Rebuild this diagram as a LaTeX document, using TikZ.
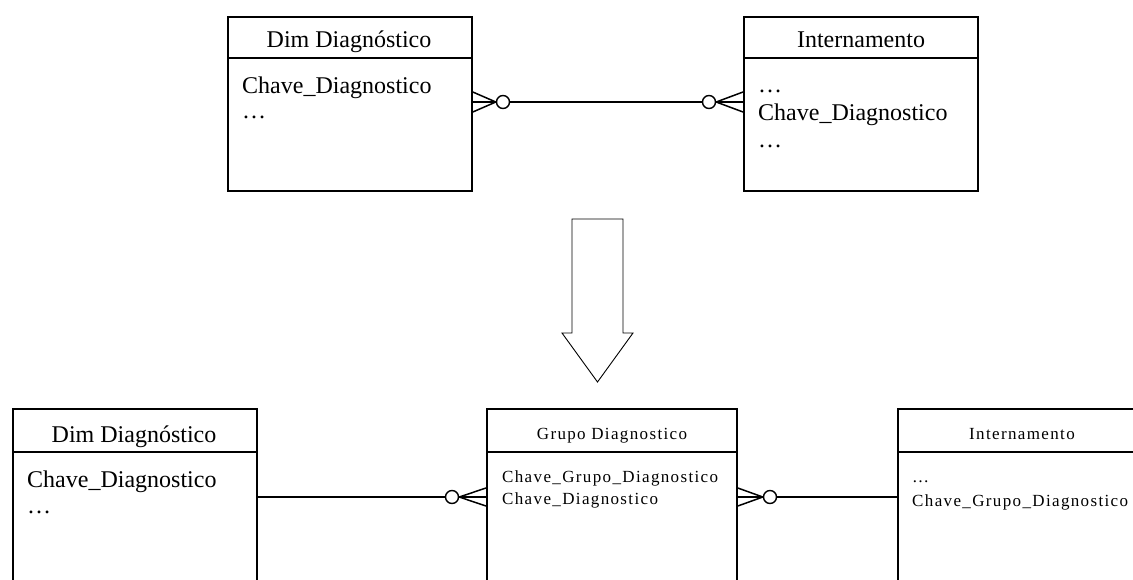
\documentclass[tikz,border=0pt]{standalone}
\usepackage{fontspec}
\setmainfont{Liberation Serif}
\newfontfamily\spacedserif[LetterSpace=8]{Liberation Serif}
\begin{document}
\begin{tikzpicture}[x=1pt,y=-1pt,
  entbox/.style={draw, line width=1.8pt, inner sep=0pt, anchor=north west},
  bigtext/.style={font=\fontsize{24}{26}\selectfont, inner sep=0pt},
  smalltext/.style={font=\spacedserif\fontsize{17}{19}\selectfont, inner sep=0pt},
  rel/.style={line width=1.5pt},
  ring/.style={circle, draw, line width=1.4pt, fill=white, minimum size=13pt, inner sep=0pt},
  ]
\useasboundingbox (0,0) rectangle (1133,579);
\clip (0,0) rectangle (1133,579);

% ---------- before: dimension linked directly to the fact ----------
\node[entbox, minimum width=244pt, minimum height=174pt] (dimT) at (227,16) {};
\draw[line width=1.8pt] ([yshift=-42pt]dimT.north west) -- ([yshift=-42pt]dimT.north east);
\node[bigtext, anchor=base] (dimTt) at (349,47) {Dim Diagnóstico};
\node[bigtext, anchor=base west] (dimTa) at (242,93) {Chave\_Diagnostico};
\node[bigtext, anchor=base west] (dimTb) at (242,118) {…};

\node[entbox, minimum width=234pt, minimum height=174pt] (intT) at (743,16) {};
\draw[line width=1.8pt] ([yshift=-42pt]intT.north west) -- ([yshift=-42pt]intT.north east);
\node[bigtext, anchor=base] (intTt) at (861,47) {Internamento};
\node[bigtext, anchor=base west] (intTa) at (758,92) {…};
\node[bigtext, anchor=base west] (intTb) at (758,120) {Chave\_Diagnostico};
\node[bigtext, anchor=base west] (intTc) at (758,147) {…};

\node[ring] (rT1) at (503,102) {};
\node[ring] (rT2) at (709,102) {};
\draw[rel] (rT1.east) -- (rT2.west);
\draw[rel] (dimT.east |- 0,92) -- (rT1.west);
\draw[rel] (dimT.east |- 0,102) -- (rT1.west);
\draw[rel] (dimT.east |- 0,112) -- (rT1.west);
\draw[rel] (intT.west |- 0,92) -- (rT2.east);
\draw[rel] (intT.west |- 0,102) -- (rT2.east);
\draw[rel] (intT.west |- 0,112) -- (rT2.east);

% ---------- transformation arrow ----------
\draw[line width=0.9pt, line join=miter]
  (572,219) -- (623,219) -- (623,333) -- (633,333) -- (597.5,382)
  -- (562,333) -- (572,333) -- cycle;

% ---------- after: bridge group between dimension and fact ----------
\node[entbox, minimum width=244pt, minimum height=200pt] (dimB) at (12,408) {};
\draw[line width=1.8pt] ([yshift=-44pt]dimB.north west) -- ([yshift=-44pt]dimB.north east);
\node[bigtext, anchor=base] (dimBt) at (134,442) {Dim Diagnóstico};
\node[bigtext, anchor=base west] (dimBa) at (27,487) {Chave\_Diagnostico};
\node[bigtext, anchor=base west] (dimBb) at (27,513) {…};

\node[entbox, minimum width=250pt, minimum height=200pt] (grpB) at (486,408) {};
\draw[line width=1.8pt] ([yshift=-44pt]grpB.north west) -- ([yshift=-44pt]grpB.north east);
\node[smalltext, anchor=base] (grpBt) at (612,439) {Grupo Diagnostico};
\node[smalltext, anchor=base west] (grpBa) at (502,482) {Chave\_Grupo\_Diagnostico};
\node[smalltext, anchor=base west] (grpBb) at (502,504) {Chave\_Diagnostico};

\node[entbox, minimum width=260pt, minimum height=200pt] (intB) at (897,408) {};
\draw[line width=1.8pt] ([yshift=-44pt]intB.north west) -- ([yshift=-44pt]intB.north east);
\node[smalltext, anchor=base] (intBt) at (1022,439) {Internamento};
\node[smalltext, anchor=base west] (intBa) at (912,482) {…};
\node[smalltext, anchor=base west] (intBb) at (912,506) {Chave\_Grupo\_Diagnostico};

\node[ring] (rB1) at (452,497) {};
\node[ring] (rB2) at (770,497) {};
\draw[rel] (dimB.east |- 0,497) -- (rB1.west);
\draw[rel] (grpB.west |- 0,488) -- (rB1.east);
\draw[rel] (grpB.west |- 0,497) -- (rB1.east);
\draw[rel] (grpB.west |- 0,506) -- (rB1.east);
\draw[rel] (grpB.east |- 0,488) -- (rB2.west);
\draw[rel] (grpB.east |- 0,497) -- (rB2.west);
\draw[rel] (grpB.east |- 0,506) -- (rB2.west);
\draw[rel] (rB2.east) -- (intB.west |- 0,497);
\end{tikzpicture}
\end{document}
